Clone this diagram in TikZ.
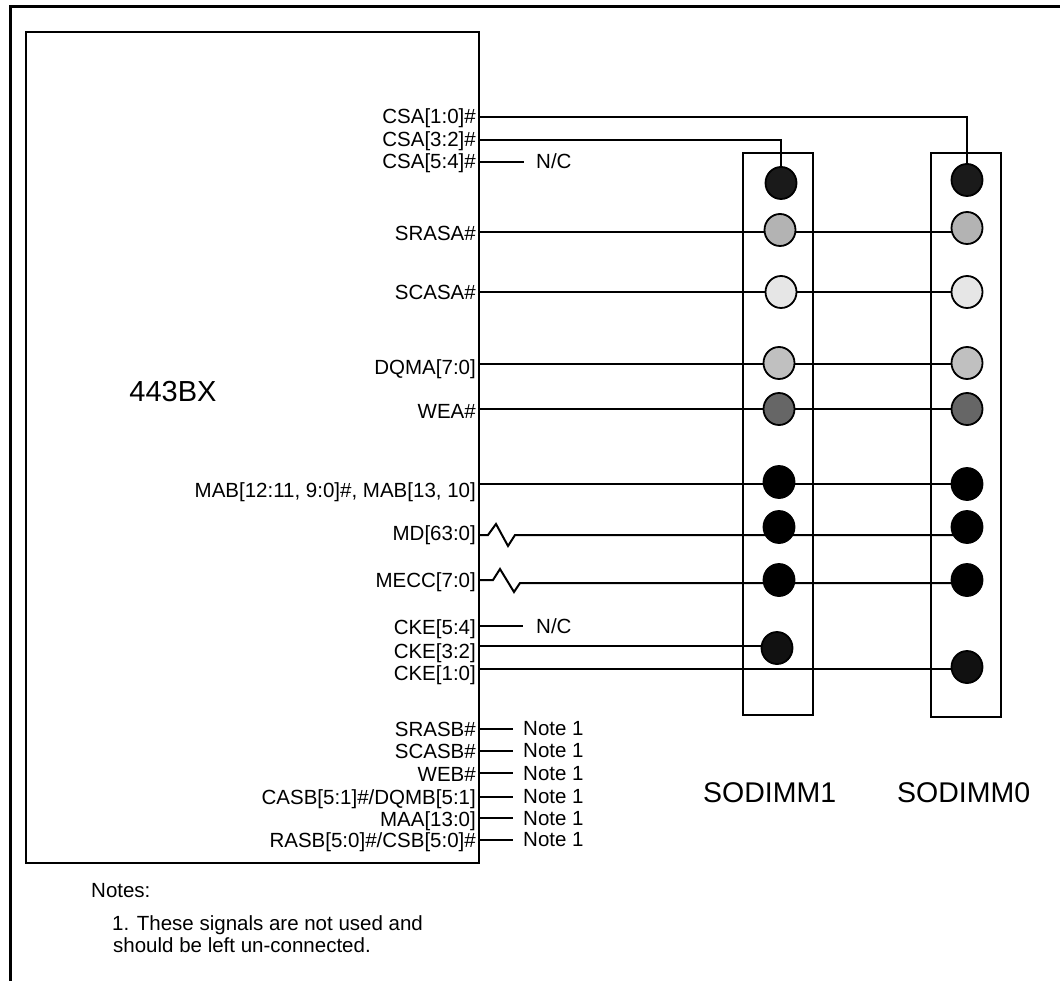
\documentclass[tikz,border=0pt]{standalone}
\usepackage{fontspec}
\setmainfont{Liberation Sans}
\usetikzlibrary{shapes.geometric,backgrounds}
\definecolor{cCSA}{HTML}{1A1A1A}
\definecolor{cSRAS}{HTML}{B3B3B3}
\definecolor{cSCAS}{HTML}{E6E6E6}
\definecolor{cDQM}{HTML}{C0C0C0}
\definecolor{cWE}{HTML}{666666}
\definecolor{cBLK}{HTML}{000000}
\definecolor{cCKE}{HTML}{111111}
\begin{document}
\begin{tikzpicture}[x=1pt,y=-1pt,
  wire/.style={line width=2pt},
  pinlbl/.style={font=\fontsize{20.5}{24}\selectfont, inner sep=0pt, anchor=base east},
  notelbl/.style={font=\fontsize{20.5}{24}\selectfont, inner sep=0pt, anchor=base west},
  biglbl/.style={font=\fontsize{28.5}{34}\selectfont, inner sep=0pt},
  dot/.style={ellipse, draw, line width=1.8pt, minimum width=31pt, minimum height=32pt, inner sep=0pt},
  boxstyle/.style={draw, line width=2pt, inner sep=0pt, rectangle, anchor=north west}]
\useasboundingbox (0,0) rectangle (1060,981);
\draw[line width=3pt] (10.5,981) -- (10.5,6.5) -- (1060,6.5);

% main chip
\node[boxstyle, minimum width=453pt, minimum height=831pt] (bx) at (25,31) {};
\node[font=\fontsize{29}{34}\selectfont, inner sep=0pt] (chip) at (173,392) {443BX};

% SODIMM boxes
\node[boxstyle, minimum width=70pt, minimum height=562pt] (s1) at (742,152) {};
\node[boxstyle, minimum width=70pt, minimum height=564pt] (s0) at (930,152) {};
\node[biglbl, anchor=base west] (s1lbl) at (703,802) {SODIMM1};
\node[biglbl, anchor=base west] (s0lbl) at (897,802) {SODIMM0};

% pin labels
\node[pinlbl] (l1) at (476,124) {CSA[1:0]\#};
\node[pinlbl] (l2) at (476,147) {CSA[3:2]\#};
\node[pinlbl] (l3) at (476,169) {CSA[5:4]\#};
\node[pinlbl] (l4) at (476,241) {SRASA\#};
\node[pinlbl] (l5) at (476,300) {SCASA\#};
\node[pinlbl] (l6) at (476,375) {DQMA[7:0]};
\node[pinlbl] (l7) at (476,418) {WEA\#};
\node[pinlbl] (l8) at (476,497) {MAB[12:11, 9:0]\#, MAB[13, 10]};
\node[pinlbl] (l9) at (476,540) {MD[63:0]};
\node[pinlbl] (l10) at (476,587) {MECC[7:0]};
\node[pinlbl] (l11) at (476,634) {CKE[5:4]};
\node[pinlbl] (l12) at (476,658) {CKE[3:2]};
\node[pinlbl] (l13) at (476,680) {CKE[1:0]};
\node[pinlbl] (l14) at (476,736) {SRASB\#};
\node[pinlbl] (l15) at (476,758) {SCASB\#};
\node[pinlbl] (l16) at (476,781) {WEB\#};
\node[pinlbl] (l17) at (476,804) {CASB[5:1]\#/DQMB[5:1]};
\node[pinlbl] (l18) at (476,826) {MAA[13:0]};
\node[pinlbl] (l19) at (476,847) {RASB[5:0]\#/CSB[5:0]\#};

% pin coordinates on box edge
\coordinate (p1) at (478,117);
\coordinate (p2) at (478,140);
\coordinate (p3) at (478,162);
\coordinate (p4) at (478,232);
\coordinate (p5) at (478,292);
\coordinate (p6) at (478,364);
\coordinate (p7) at (478,409);
\coordinate (p8) at (478,484);
\coordinate (p9) at (478,535);
\coordinate (p10) at (478,580);
\coordinate (p11) at (478,626);
\coordinate (p12) at (478,646);
\coordinate (p13) at (478,669);
\coordinate (p14) at (478,729);
\coordinate (p15) at (478,751);
\coordinate (p16) at (478,773);
\coordinate (p17) at (478,797);
\coordinate (p18) at (478,818);
\coordinate (p19) at (478,840);

% N/C and Note labels
\node[notelbl] (nc1) at (536,169) {N/C};
\coordinate (e3) at (524,162);
\node[notelbl] (nc2) at (536,633) {N/C};
\coordinate (e11) at (523,626);
\node[notelbl] (n14) at (523,735) {Note 1};
\node[notelbl] (n15) at (523,757) {Note 1};
\node[notelbl] (n16) at (523,780) {Note 1};
\node[notelbl] (n17) at (523,803) {Note 1};
\node[notelbl] (n18) at (523,825) {Note 1};
\node[notelbl] (n19) at (523,846) {Note 1};
\coordinate (e14) at (513,729);
\coordinate (e15) at (513,751);
\coordinate (e16) at (513,773);
\coordinate (e17) at (513,797);
\coordinate (e18) at (513,818);
\coordinate (e19) at (513,840);

% module contacts
\node[dot, fill=cCSA] (a1) at (781,183) {};
\node[dot, fill=cCSA] (a0) at (967,180) {};
\node[dot, fill=cSRAS] (b1) at (780,230) {};
\node[dot, fill=cSRAS] (b0) at (967,228) {};
\node[dot, fill=cSCAS] (c1) at (781,292) {};
\node[dot, fill=cSCAS] (c0) at (967,292) {};
\node[dot, fill=cDQM] (d1) at (779,363) {};
\node[dot, fill=cDQM] (d0) at (967,363) {};
\node[dot, fill=cWE] (w1) at (779,409) {};
\node[dot, fill=cWE] (w0) at (967,409) {};
\node[dot, fill=cBLK] (m1) at (779,482) {};
\node[dot, fill=cBLK] (m0) at (967,484) {};
\node[dot, fill=cBLK] (md1) at (779,527) {};
\node[dot, fill=cBLK] (md0) at (967,527) {};
\node[dot, fill=cBLK] (ec1) at (779,580) {};
\node[dot, fill=cBLK] (ec0) at (967,580) {};
\node[dot, fill=cCKE] (k1) at (777,648) {};
\node[dot, fill=cCKE] (k0) at (967,667) {};

% wires (behind the contacts)
\begin{scope}[on background layer]
\draw[wire] (p1) -| (a0.north);
\draw[wire] (p2) -| (a1.north);
\draw[wire] (p3) -- (e3);
\draw[wire] (p4) -- (p4 -| b0);
\draw[wire] (p5) -- (p5 -| c0.west);
\draw[wire] (p6) -- (p6 -| d0);
\draw[wire] (p7) -- (p7 -| w0);
\draw[wire] (p8) -- (p8 -| m0);
\coordinate (z9) at (515,535);
\draw[wire] (p9) -- ++(10,0) -- ++(8,-11) -- ++(12,22) -- (z9) -- (z9 -| md0);
\coordinate (z10) at (520,583);
\draw[wire] (p10) -- ++(15,0) -- ++(7,-11) -- ++(14,23) -- (z10) -- (z10 -| ec0);
\draw[wire] (p11) -- (e11);
\draw[wire] (p12) -- (p12 -| k1);
\draw[wire] (p13) -- (p13 -| k0);
\draw[wire] (p14) -- (e14);
\draw[wire] (p15) -- (e15);
\draw[wire] (p16) -- (e16);
\draw[wire] (p17) -- (e17);
\draw[wire] (p18) -- (e18);
\draw[wire] (p19) -- (e19);
\end{scope}

% notes
\node[notelbl] (notes) at (91,897) {Notes:};
\node[notelbl] (note1a) at (112,930) {1. These signals are not used and};
\node[notelbl] (note1b) at (113,952) {should be left un-connected.};
\end{tikzpicture}
\end{document}
